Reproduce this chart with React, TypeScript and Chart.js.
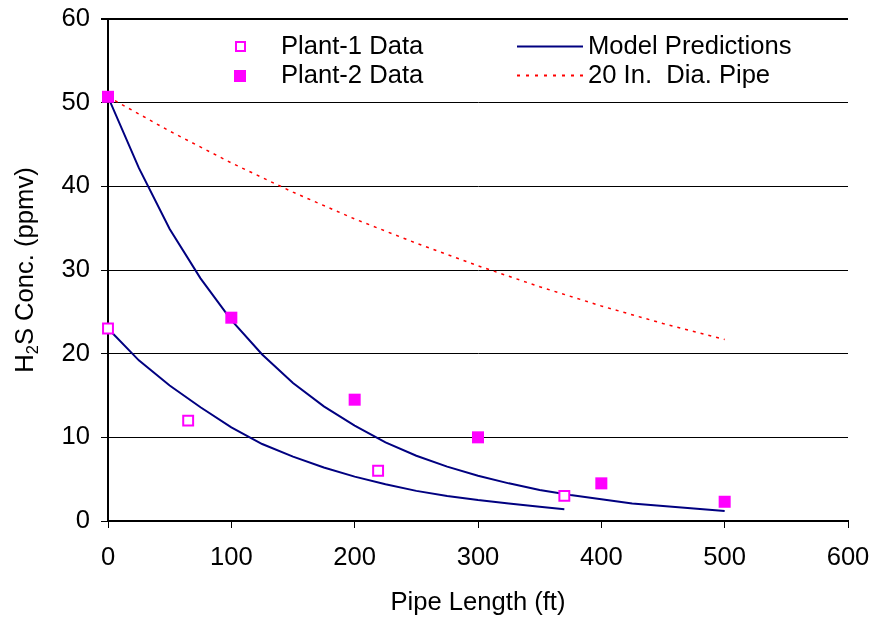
import React, { useEffect, useRef } from "react";
import { Chart, registerables } from "chart.js";

Chart.register(...registerables);

const plant1X = [0, 65, 219, 370];
const plant1Y = [23, 12, 6, 3];
const plant2X = [0, 100, 200, 300, 400, 500];
const plant2Y = [50.7, 24.3, 14.5, 10, 4.5, 2.3];

const model1X = [0, 25, 50, 75, 100, 125, 150, 175, 200, 225, 250, 275, 300, 325, 350, 370];
const model1Y = [23, 19.2, 16.2, 13.6, 11.2, 9.2, 7.7, 6.4, 5.3, 4.4, 3.6, 3.0, 2.5, 2.1, 1.7, 1.4];
const model2X = [0, 25, 50, 75, 100, 125, 150, 175, 200, 225, 250, 275, 300, 325, 350, 375, 400, 425, 450, 475, 500];
const model2Y = [50.7, 42.2, 34.9, 29.0, 24.0, 19.9, 16.5, 13.7, 11.4, 9.4, 7.8, 6.5, 5.4, 4.5, 3.7, 3.1, 2.6, 2.1, 1.8, 1.5, 1.2];
const pipeX = [0, 50, 100, 150, 200, 250, 300, 350, 400, 450, 500];
const pipeY = [50.7, 46.6, 42.8, 39.3, 36.1, 33.2, 30.5, 28.0, 25.7, 23.6, 21.7];

const legendLabels = ["Plant-1 Data", "Plant-2 Data", "Model Predictions", "20 In.  Dia. Pipe"];
const xTitle = "Pipe Length (ft)";
// y-axis title pieces: "H", subscript "2", "S Conc. (ppmv)"
const yTitleParts = ["H", "2", "S Conc. (ppmv)"];

const FONT = "'Liberation Sans', Arial, sans-serif";
const FS = 25.6;
const MAGENTA = "#FF00FF";
const NAVY = "#000080";
const RED = "#FF0000";

const toPts = (xs: number[], ys: number[]) => xs.map((x, i) => ({ x, y: ys[i] }));

const legendPlugin = {
  id: "customLegend",
  afterDraw(chart: any) {
    const ctx = chart.ctx;
    ctx.save();
    ctx.textBaseline = "middle";
    ctx.textAlign = "left";
    ctx.fillStyle = "#fff";
    ctx.strokeStyle = MAGENTA;
    ctx.lineWidth = 2;
    ctx.fillRect(236, 42, 9, 9);
    ctx.strokeRect(236, 42, 9, 9);
    ctx.fillStyle = MAGENTA;
    ctx.fillRect(234, 70, 12, 12);
    ctx.strokeStyle = NAVY;
    ctx.lineWidth = 2;
    ctx.beginPath();
    ctx.moveTo(517, 46.5);
    ctx.lineTo(583, 46.5);
    ctx.stroke();
    ctx.strokeStyle = RED;
    ctx.setLineDash([3, 6]);
    ctx.beginPath();
    ctx.moveTo(517, 75.5);
    ctx.lineTo(583, 75.5);
    ctx.stroke();
    ctx.setLineDash([]);
    ctx.font = `${FS}px ${FONT}`;
    ctx.fillStyle = "#000";
    ctx.fillText(legendLabels[0], 281, 47);
    ctx.fillText(legendLabels[1], 281, 76);
    ctx.fillText(legendLabels[2], 588, 47);
    ctx.fillText(legendLabels[3], 588, 76);

    // y-axis title with real subscript
    const area = chart.chartArea;
    const cy = (area.top + area.bottom) / 2;
    const big = `${FS}px ${FONT}`;
    const small = `16.5px ${FONT}`;
    ctx.font = big;
    const w0 = ctx.measureText(yTitleParts[0]).width;
    const w2 = ctx.measureText(yTitleParts[2]).width;
    ctx.font = small;
    const w1 = ctx.measureText(yTitleParts[1]).width;
    const total = w0 + w1 + w2;
    ctx.translate(26, cy);
    ctx.rotate(-Math.PI / 2);
    ctx.textBaseline = "middle";
    let x = -total / 2;
    ctx.font = big;
    ctx.fillText(yTitleParts[0], x, 0);
    x += w0;
    ctx.font = small;
    ctx.fillText(yTitleParts[1], x, 7);
    x += w1;
    ctx.font = big;
    ctx.fillText(yTitleParts[2], x, 0);
    ctx.restore();
  },
};

export default function App() {
  const ref = useRef<HTMLCanvasElement | null>(null);
  useEffect(() => {
    if (!ref.current) return;
    const chart = new Chart(ref.current, {
      type: "scatter",
      data: {
        datasets: [
          {
            label: legendLabels[0],
            data: toPts(plant1X, plant1Y),
            pointStyle: "rect",
            pointRadius: 7,
            pointBorderWidth: 2,
            pointBorderColor: MAGENTA,
            pointBackgroundColor: "#fff",
            showLine: false,
            clip: false,
          },
          {
            label: legendLabels[1],
            data: toPts(plant2X, plant2Y),
            pointStyle: "rect",
            pointRadius: 8.5,
            pointBorderWidth: 0,
            pointBackgroundColor: MAGENTA,
            showLine: false,
            clip: false,
          },
          {
            label: legendLabels[2],
            data: toPts(model1X, model1Y),
            showLine: true,
            borderColor: NAVY,
            borderWidth: 2,
            pointRadius: 0,
            tension: 0,
          },
          {
            label: legendLabels[2] + " 2",
            data: toPts(model2X, model2Y),
            showLine: true,
            borderColor: NAVY,
            borderWidth: 2,
            pointRadius: 0,
            tension: 0,
          },
          {
            label: legendLabels[3],
            data: toPts(pipeX, pipeY),
            showLine: true,
            borderColor: RED,
            borderWidth: 1.5,
            borderDash: [3, 5],
            pointRadius: 0,
            tension: 0,
          },
        ],
      },
      options: {
        animation: false,
        responsive: true,
        maintainAspectRatio: false,
        layout: { padding: { left: 0, right: 25, top: 19, bottom: 0 } },
        plugins: { legend: { display: false }, tooltip: { enabled: false } },
        scales: {
          x: {
            type: "linear",
            min: 0,
            max: 600,
            afterFit: (s: any) => {
              s.height = 96;
              s.paddingLeft = 0;
              s.paddingRight = 0;
            },
            ticks: {
              stepSize: 100,
              color: "#000",
              font: { family: FONT, size: FS },
              padding: 15,
            },
            grid: { drawOnChartArea: false, drawTicks: true, tickLength: 7, color: "#000", lineWidth: 1 },
            border: { display: true, color: "#000", width: 2 },
            title: {
              display: true,
              text: xTitle,
              color: "#000",
              font: { family: FONT, size: FS, lineHeight: 1 },
              padding: { top: 0, bottom: 1 },
            },
          },
          y: {
            type: "linear",
            min: 0,
            max: 60,
            afterFit: (s: any) => {
              s.width = 108;
              s.paddingTop = 0;
              s.paddingBottom = 0;
            },
            ticks: {
              stepSize: 10,
              color: "#000",
              font: { family: FONT, size: FS },
              padding: 11,
            },
            grid: {
              drawOnChartArea: true,
              drawTicks: true,
              tickLength: 7,
              color: "#000",
              lineWidth: (c: any) => (c.tick && c.tick.value === 60 ? 2 : 1),
            },
            border: { display: true, color: "#000", width: 2 },
            title: { display: false },
          },
        },
      },
      plugins: [legendPlugin],
    });
    return () => chart.destroy();
  }, []);
  return (
    <div style={{ position: "absolute", left: 0, top: 0, width: 873, height: 617, background: "#fff" }}>
      <canvas ref={ref} />
    </div>
  );
}
